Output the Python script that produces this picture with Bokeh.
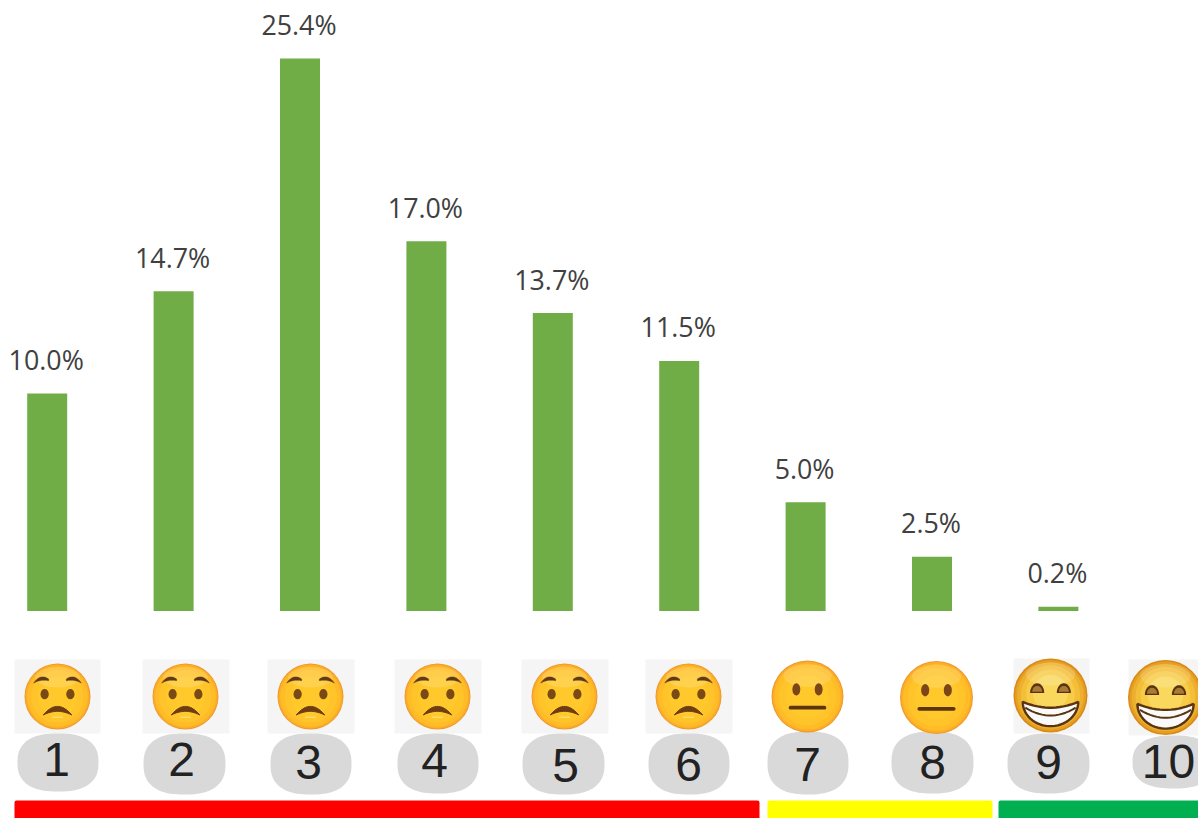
import numpy as np
from bokeh.core.properties import value
from bokeh.embed import file_html
from bokeh.models import ColumnDataSource, Range1d
from bokeh.plotting import figure
from bokeh.resources import INLINE

# Chart data
scores = [1, 2, 3, 4, 5, 6, 7, 8, 9, 10]
shares = [10.0, 14.7, 25.4, 17.0, 13.7, 11.5, 5.0, 2.5, 0.2]
score_labels = [str(s) for s in scores]
moods = ["sad"] * 6 + ["neutral"] * 2 + ["grin"] * 2

# Layout of the decorative row (page pixels)
face_x = [57, 185, 310, 437, 564, 688, 807, 936, 1050, 1165]
face_y = [696, 696, 696, 696, 696, 696, 696, 697, 695, 697]
face_r = [33, 33, 33, 33, 33, 33, 36, 36.5, 37, 37.5]
card_l = [14, 142, 267, 394, 521, 645, None, None, 1013, 1128]
card_r = [100, 229, 354, 481, 608, 732, None, None, 1089, 1200]
card_t = [659, 659, 659, 659, 659, 659, None, None, 658, 659]
card_b = [733, 733, 733, 733, 733, 733, None, None, 733, 735]
pill_l = [17, 143, 270, 397, 522, 648, 767, 891, 1007, 1132]
pill_r = [98, 225, 351, 478, 604, 729, 848, 973, 1089, 1214]
pill_t = [733, 733, 733, 733, 733, 733, 731, 731, 733, 735]
pill_b = [791, 794, 794, 793, 794, 794, 794, 793, 793, 788]
digit_x = [56, 181, 308, 434, 565, 688, 807, 932, 1048, 1168]
digit_y = [759, 759, 762, 760, 765, 764, 764, 762, 762, 761]
band_l = [14, 767, 998]
band_r = [759, 992, 1200]
band_colors = ["#FF0000", "#FFFF00", "#00B050"]

W, H = 1198, 818
PX0, PY0 = 0, 0
BAR_STEP, BAR_X0 = 126.4, 46.7
BASE_Y, PX_PER_PCT = 610.5, 21.75

p = figure(
    width=W, height=H, output_backend="svg", toolbar_location=None,
    x_range=Range1d(1 + (PX0 - BAR_X0) / BAR_STEP, 1 + (PX0 + W - BAR_X0) / BAR_STEP),
    y_range=Range1d((BASE_Y - (PY0 + H)) / PX_PER_PCT, (BASE_Y - PY0) / PX_PER_PCT),
    x_axis_location=None, y_axis_location=None,
    min_border=0, outline_line_color=None, background_fill_color="white",
)
p.grid.visible = False
p.extra_x_ranges = {"px": Range1d(PX0, PX0 + W)}
p.extra_y_ranges = {"py": Range1d(PY0 + H, PY0)}
PX = dict(x_range_name="px", y_range_name="py")

# Bars and their labels
src = ColumnDataSource(dict(
    x=scores[:len(shares)], top=shares,
    label=[f"{v:.1f}%" for v in shares],
))
p.vbar(x="x", top="top", bottom=0, width=40 / BAR_STEP, source=src,
       fill_color="#70AD47", line_color=None)
p.text(x="x", y="top", text="label", source=src, x_offset=-1, y_offset=-34,
       text_align="center", text_baseline="middle",
       text_font=value("Open Sans"), text_font_size="26.8px", text_color="#404040")

# Colour bands
p.quad(left=band_l, right=band_r, top=[800] * 3, bottom=[820] * 3,
       fill_color=band_colors, line_color=None, border_radius=(2, 2, 0, 0), **PX)

# Grey cards behind the sad and grinning faces
cards = [i for i, l in enumerate(card_l) if l is not None]
p.quad(left=[card_l[i] for i in cards], right=[card_r[i] for i in cards],
       top=[card_t[i] for i in cards], bottom=[card_b[i] for i in cards],
       fill_color="#F5F5F5", line_color=None, **PX)

# Number pills: rounded blobs
t = np.linspace(0, 2 * np.pi, 90)
xs, ys = [], []
for l, r, tp, b in zip(pill_l, pill_r, pill_t, pill_b):
    cx, cy, a, c = (l + r) / 2, (tp + b) / 2, (r - l) / 2, (b - tp) / 2
    xs.append(cx + a * np.sign(np.cos(t)) * np.abs(np.cos(t)) ** (2 / 2.5))
    ys.append(cy + c * np.sign(np.sin(t)) * np.abs(np.sin(t)) ** (2 / 2.5))
p.patches(xs, ys, fill_color="#D9D9D9", line_color=None, **PX)
p.text(x=digit_x, y=digit_y, text=score_labels, text_align="center",
       text_baseline="middle", text_font=value("Liberation Sans"),
       text_font_size="48px", text_color="#222222", **PX)

BROWN = "#6E3D12"


def curve(pts, n=16):
    """Quadratic Bezier through three control points, in face units."""
    (a, b), (c, d), (e, f) = pts
    s = np.linspace(0, 1, n)
    return ((1 - s) ** 2 * a + 2 * s * (1 - s) * c + s ** 2 * e,
            (1 - s) ** 2 * b + 2 * s * (1 - s) * d + s ** 2 * f)


def draw_face(cx, cy, r, mood):
    to_x = lambda u: cx + np.asarray(u) * r
    to_y = lambda v: cy - np.asarray(v) * r
    if mood == "grin":
        layers = [(1.0, "#D98A16", 0), (0.96, "#E59F22", 0), (0.90, "#EDB02E", 0),
                  (0.80, "#F3BE38", 0.02), (0.66, "#F7CB48", 0.05), (0.48, "#FAD85E", 0.08)]
    else:
        layers = [(1.0, "#F09A2C", 0), (0.97, "#FBAE28", 0), (0.92, "#FFBC26", 0),
                  (0.80, "#FFC42A", 0), (0.60, "#FFC92C", 0)]
    for f, col, up in layers:
        p.circle(x=[cx], y=[cy - up * r], radius=f * r, fill_color=col, line_color=None, **PX)
    p.ellipse(x=[cx], y=[cy - 0.58 * r], width=1.35 * r, height=0.62 * r,
              fill_color="#FFFFFF", fill_alpha=0.16, line_color=None, **PX)

    if mood == "sad":
        p.ellipse(x=[cx - 0.39 * r, cx + 0.39 * r], y=[cy - 0.07 * r] * 2,
                  width=0.25 * r, height=0.31 * r, fill_color="#7A4A15", line_color=None, **PX)
        for sign in (-1, 1):
            uu, vu = curve([(sign * 0.72, 0.41), (sign * 0.52, 0.70), (sign * 0.27, 0.53)])
            ul, vl = curve([(sign * 0.27, 0.48), (sign * 0.50, 0.53), (sign * 0.72, 0.41)])
            p.patch(to_x(np.r_[uu, ul]), to_y(np.r_[vu, vl]), fill_color="#5E3A18",
                    line_color="#5E3A18", line_width=0.5, **PX)
        uu, vu = curve([(-0.43, -0.56), (0, -0.04), (0.43, -0.56)])
        ul, vl = curve([(0.43, -0.56), (0, -0.34), (-0.43, -0.56)])
        p.patch(to_x(np.r_[uu, ul]), to_y(np.r_[vu, vl]), fill_color=BROWN,
                line_color=BROWN, line_width=1, **PX)
        p.line(to_x([-0.15, 0.15]), to_y([-0.63, -0.63]), line_color="#FFDD66",
               line_width=1.5, line_cap="round", **PX)
    elif mood == "neutral":
        p.ellipse(x=[cx - 0.31 * r, cx + 0.31 * r], y=[cy - 0.20 * r] * 2,
                  width=0.22 * r, height=0.34 * r, fill_color="#7A4618",
                  line_color=None, **PX)
        p.line(to_x([-0.47, 0.47]), to_y([-0.31, -0.31]), line_color="#5C3410",
               line_width=r * 0.105, line_cap="round", **PX)
    else:
        a = np.linspace(0, np.pi, 24)
        for sign in (-1, 1):
            ex = sign * 0.36
            p.patch(to_x(ex + 0.19 * np.cos(a)), to_y(0.07 + 0.26 * np.sin(a)),
                    fill_color="#5A3410", line_color=None, **PX)
            p.patch(to_x(ex + 0.135 * np.cos(a)), to_y(0.10 + 0.16 * np.sin(a)),
                    fill_color="#A87A35", line_color=None, **PX)
        ut, vt = curve([(-0.75, -0.17), (0, -0.49), (0.75, -0.17)])
        a2 = np.linspace(0, np.pi, 30)
        ub, vb = 0.75 * np.cos(a2), -0.17 - 0.66 * np.sin(a2)
        p.patch(to_x(np.r_[ut, ub]), to_y(np.r_[vt, vb]), fill_color="#FAFAFA",
                line_color="#5A3410", line_width=2.4, **PX)
        um, vm = curve([(-0.68, -0.33), (0, -0.75), (0.68, -0.33)])
        p.line(to_x(um), to_y(vm), line_color="#5A3410", line_width=2, **PX)


for cx, cy, r, mood in zip(face_x, face_y, face_r, moods):
    draw_face(cx, cy, r, mood)

open("out.html", "w").write(file_html(p, INLINE))
